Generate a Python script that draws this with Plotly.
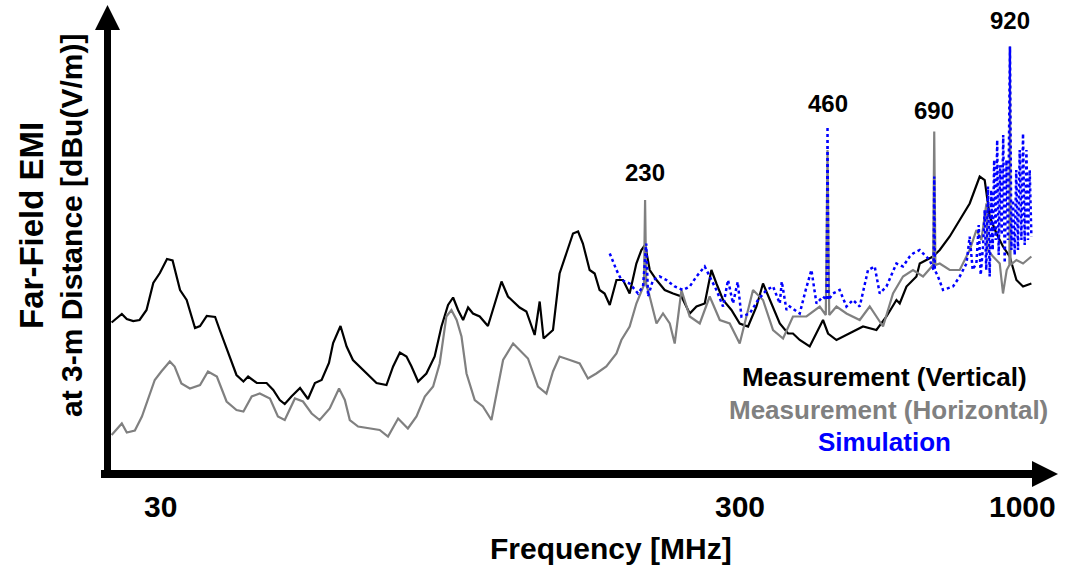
import numpy as np
import plotly.graph_objects as go

# ---------------- data (frequency in MHz, level in dBuV/m) ----------------
vert_freq = [30.3, 31.5, 32.1, 32.9, 33.7, 34.6, 35.5, 36.4, 37.4, 38.2,
             39.3, 40.3, 41.6, 42.4, 43.5, 44.9, 45.7, 47.2, 48.7, 50.0,
             50.9, 52.6, 54.6, 56.0, 57.4, 58.5, 60.0, 62.0, 63.9, 65.6,
             67.3, 69.2, 70.3, 72.3, 74.0, 75.8, 77.8, 80.3, 82.9, 86.1,
             88.3, 90.6, 92.9, 94.7, 97.1, 100.2, 103.4, 106.1, 108.8, 110.9,
             113.0, 115.2, 117.4, 119.6, 122.7, 126.6, 129.1, 133.3, 136.6, 139.3,
             142.8, 146.5, 151.2, 154.1, 156.4, 162.1, 166.2, 170.5, 174.9, 178.3,
             181.6, 186.3, 189.9, 193.5, 197.2, 201.1, 206.3, 211.5, 216.9, 222.5,
             226.8, 230.0, 234.1, 240.2, 247.8, 255.8, 264.1, 272.5, 279.6, 288.5,
             295.9, 301.6, 309.3, 319.3, 329.5, 340.1, 351.2, 360.0, 369.3, 383.7,
             395.9, 403.4, 413.9, 429.9, 452.2, 460.9, 475.9, 500.5, 526.4, 553.9,
             575.5, 597.7, 605.2, 620.9, 628.6, 644.9, 653.0, 686.7, 704.5, 731.8,
             760.1, 789.5, 820.1, 835.8, 851.8, 873.9, 896.0, 919.1, 942.9, 966.8,
             998.0]
vert_db = [29.5, 31.2, 30.2, 29.8, 30.0, 32.0, 37.4, 39.4, 42.2, 41.9,
           36.0, 34.0, 28.4, 28.8, 30.8, 30.6, 28.0, 23.4, 19.0, 17.7,
           18.7, 17.4, 17.4, 16.0, 14.0, 13.2, 14.7, 16.4, 14.2, 17.4,
           18.0, 21.4, 25.4, 28.8, 24.7, 22.0, 20.7, 19.0, 17.4, 17.0,
           20.7, 23.5, 22.7, 20.7, 17.7, 19.3, 22.7, 28.7, 33.0, 34.5,
           32.0, 30.0, 32.5, 31.3, 30.7, 28.8, 32.0, 37.7, 34.7, 33.7,
           32.5, 31.7, 27.0, 33.7, 26.3, 28.0, 39.3, 43.3, 47.3, 47.7,
           45.3, 40.0, 39.3, 36.0, 35.3, 33.0, 38.0, 38.0, 35.3, 41.3,
           44.0, 45.0, 40.0, 38.0, 36.0, 35.3, 34.7, 31.3, 32.7, 33.3,
           40.0, 37.3, 34.0, 32.0, 29.3, 28.7, 32.7, 37.3, 34.0, 29.3,
           27.3, 27.3, 26.0, 24.7, 30.0, 27.3, 26.0, 27.3, 28.7, 28.0,
           30.7, 34.0, 33.3, 36.7, 37.3, 38.7, 41.3, 42.7, 44.0, 46.7,
           50.0, 53.3, 58.7, 58.0, 50.7, 47.3, 44.7, 42.7, 38.0, 36.7,
           37.3]

horiz_freq = [30.3, 31.5, 32.1, 33.1, 34.0, 34.8, 35.7, 36.6, 37.8, 38.5,
              39.5, 40.8, 42.4, 43.7, 45.2, 46.9, 48.7, 50.0, 51.6, 53.2,
              55.3, 57.0, 58.5, 60.8, 62.7, 64.8, 66.8, 69.4, 71.9, 73.5,
              74.9, 77.3, 80.8, 83.9, 86.6, 90.0, 93.4, 96.5, 99.6, 102.8,
              105.4, 108.1, 110.2, 112.4, 114.5, 116.7, 120.4, 124.2, 128.3, 131.6,
              134.1, 139.3, 142.8, 147.4, 153.1, 158.1, 162.1, 166.2, 172.8, 179.4,
              185.1, 191.1, 198.5, 206.3, 210.2, 216.9, 222.5, 226.8, 229.0, 230.0,
              231.0, 232.6, 240.2, 246.2, 252.6, 257.4, 264.1, 272.5, 283.1, 294.0,
              305.5, 317.2, 329.5, 346.6, 360.0, 374.0, 388.5, 403.4, 424.6, 446.6,
              457.0, 460.0, 463.0, 475.9, 494.3, 519.9, 540.0, 568.0, 590.0, 612.8,
              636.5, 661.2, 687.0, 690.0, 693.0, 704.5, 731.8, 760.1, 789.5, 809.9,
              825.4, 841.3, 845.0, 862.6, 884.9, 896.0, 908.7, 918.0, 920.0, 922.0,
              942.9, 966.8, 998.0]
horiz_db = [7.0, 9.3, 7.5, 7.9, 10.7, 14.0, 18.0, 19.7, 21.7, 20.7,
            17.3, 16.3, 17.0, 19.7, 18.7, 13.7, 12.0, 11.7, 14.7, 15.3,
            14.3, 10.7, 10.0, 14.3, 13.7, 11.3, 10.0, 12.3, 16.3, 14.0,
            10.0, 8.7, 8.3, 8.0, 6.7, 10.3, 8.3, 10.7, 14.7, 16.7,
            21.3, 30.7, 32.0, 30.0, 26.7, 19.3, 14.0, 12.7, 10.0, 16.7,
            22.0, 25.3, 24.0, 22.3, 16.7, 15.3, 19.7, 22.7, 22.0, 21.3,
            18.3, 19.3, 20.7, 23.3, 26.0, 28.7, 33.3, 36.0, 37.0, 54.0,
            37.0, 36.0, 29.3, 31.3, 29.3, 25.3, 36.0, 30.7, 29.3, 34.7,
            30.0, 29.3, 25.3, 36.0, 34.0, 28.0, 26.3, 30.7, 30.7, 32.7,
            31.0, 64.0, 31.0, 32.7, 31.3, 30.0, 32.7, 28.7, 35.3, 38.7,
            40.0, 38.7, 41.0, 67.7, 41.0, 41.3, 40.0, 40.0, 44.0, 48.0,
            46.0, 53.3, 44.0, 42.7, 41.3, 35.3, 40.0, 41.0, 84.7, 41.0,
            42.0, 41.3, 42.7]

sim_freq = [201.1, 206.3, 210.2, 216.9, 223.9, 228.2, 231.0, 232.6, 237.0, 243.1,
            249.4, 257.4, 265.7, 272.5, 279.6, 288.5, 294.0, 301.6, 309.3, 315.2,
            321.2, 327.0, 331.7, 342.3, 353.2, 364.8, 374.0, 383.7, 386.6, 393.6,
            398.4, 413.9, 423.4, 432.7, 441.1, 452.2, 458.5, 460.0, 461.5, 469.7,
            481.8, 494.3, 506.8, 519.9, 536.5, 550.3, 560.9, 575.5, 597.7, 612.8,
            628.6, 636.5, 653.0, 678.2, 688.5, 690.0, 691.5, 699.9, 713.4, 741.0,
            760.1, 779.8, 789.5, 798.5, 809.9, 817.0, 823.2, 830.5, 835.8, 840.7,
            846.3, 851.8, 856.7, 861.6, 866.4, 871.5, 876.4, 881.5, 886.5, 891.6,
            896.7, 901.8, 907.8, 913.1, 920.0, 925.0, 930.7, 936.7, 942.2, 948.5,
            954.7, 960.9, 966.8, 973.0, 979.4, 985.2, 991.7, 998.0]
sim_db = [43.3, 40.0, 38.0, 37.3, 35.3, 36.7, 45.3, 34.7, 38.0, 38.7,
          38.0, 36.7, 36.0, 36.7, 38.7, 40.7, 38.7, 36.0, 32.7, 38.0,
          33.3, 37.6, 30.7, 31.3, 34.0, 36.0, 36.7, 33.3, 37.7, 32.0,
          32.7, 31.3, 36.0, 40.0, 33.3, 34.7, 34.0, 68.7, 34.0, 35.3,
          36.0, 32.7, 34.0, 32.7, 40.0, 40.7, 35.3, 36.7, 41.3, 40.7,
          42.7, 43.3, 44.0, 42.0, 40.0, 58.7, 40.0, 38.7, 36.0, 36.7,
          38.7, 41.3, 46.7, 40.0, 41.4, 49.0, 39.0, 44.7, 52.0, 40.0,
          56.7, 38.7, 56.0, 44.0, 62.0, 46.0, 66.0, 43.0, 61.0, 47.0,
          67.0, 41.4, 62.0, 46.0, 84.7, 44.0, 54.0, 43.0, 60.0, 44.0,
          64.0, 46.0, 67.3, 45.0, 64.0, 46.0, 60.0, 46.7]

peak_freqs = [230, 460, 690, 920]
peak_labels = ["230", "460", "690", "920"]
peak_label_db = [59.6, 73.4, 72.0, 90.0]

tick_labels = ["30", "300", "1000"]
series_names = ["Measurement (Vertical)", "Measurement (Horizontal)", "Simulation"]

# ---------------- layout helpers ----------------
W, H = 1066, 566
L, R, T, B = 105, 21, 15, 96
PW, PH = W - L - R, H - T - B
FONT = "Liberation Sans, Arial, Helvetica, sans-serif"


def pxx(x):
    return (x - L) / PW


def pxy(y):
    return (H - B - y) / PH


fig = go.Figure()
fig.add_trace(go.Scatter(x=vert_freq, y=vert_db, mode="lines", name=series_names[0],
                         line=dict(color="#000000", width=2.2)))
fig.add_trace(go.Scatter(x=horiz_freq, y=horiz_db, mode="lines", name=series_names[1],
                         line=dict(color="#808080", width=2.2)))
fig.add_trace(go.Scatter(x=sim_freq, y=sim_db, mode="lines", name=series_names[2],
                         line=dict(color="#0000FF", width=2.5, dash="dot")))

shapes = [
    dict(type="line", xref="paper", yref="paper", x0=pxx(107.5), x1=pxx(107.5),
         y0=pxy(478), y1=pxy(26), line=dict(color="black", width=7)),
    dict(type="path", xref="paper", yref="paper",
         path=f"M {pxx(107.5)},{pxy(5)} L {pxx(95)},{pxy(30)} L {pxx(120)},{pxy(30)} Z",
         fillcolor="black", line=dict(color="black", width=0)),
    dict(type="line", xref="paper", yref="paper", x0=pxx(101), x1=pxx(1036),
         y0=pxy(474), y1=pxy(474), line=dict(color="black", width=8)),
    dict(type="path", xref="paper", yref="paper",
         path=f"M {pxx(1058)},{pxy(474)} L {pxx(1032)},{pxy(461)} L {pxx(1032)},{pxy(487)} Z",
         fillcolor="black", line=dict(color="black", width=0)),
]

annotations = []
tick_pos = [160, 740, 1022]
for lab, xp in zip(tick_labels, tick_pos):
    annotations.append(dict(text=lab, xref="paper", yref="paper", x=pxx(xp), y=pxy(507),
                            xanchor="center", yanchor="middle", showarrow=False,
                            font=dict(family=FONT, size=30, color="black", weight="bold")))
annotations.append(dict(text="Frequency [MHz]", xref="paper", yref="paper",
                        x=pxx(611), y=pxy(548), xanchor="center", yanchor="middle",
                        showarrow=False,
                        font=dict(family=FONT, size=30, color="black", weight="bold")))
annotations.append(dict(text="<span style='font-size:33px'>Far-Field EMI</span><br>at 3-m Distance [dBu(V/m)]",
                        xref="paper", yref="paper", x=pxx(50), y=pxy(226), xanchor="center",
                        yanchor="middle", textangle=-90, showarrow=False, align="center",
                        font=dict(family=FONT, size=30, color="black", weight="bold")))
legend_colors = ["#000000", "#808080", "#0000FF"]
legend_pos = [(884, 377), (888, 410), (884, 442)]
for name, col, (xp, yp) in zip(series_names, legend_colors, legend_pos):
    annotations.append(dict(text=name, xref="paper", yref="paper", x=pxx(xp), y=pxy(yp),
                            xanchor="center", yanchor="middle", showarrow=False,
                            font=dict(family=FONT, size=26, color=col, weight="bold")))
for f, lab, db in zip(peak_freqs, peak_labels, peak_label_db):
    annotations.append(dict(text=lab, x=np.log10(f), y=db, xref="x", yref="y",
                            xanchor="center", yanchor="middle", showarrow=False,
                            font=dict(family=FONT, size=24, color="black", weight="bold")))

fig.update_layout(
    width=W, height=H,
    margin=dict(l=L, r=R, t=T, b=B, pad=0),
    paper_bgcolor="white", plot_bgcolor="white",
    showlegend=False,
    xaxis=dict(type="log", range=[np.log10(29.55), np.log10(1051)],
               showgrid=False, zeroline=False, showline=False,
               showticklabels=False, ticks=""),
    yaxis=dict(range=[0, 91], showgrid=False, zeroline=False, showline=False,
               showticklabels=False, ticks=""),
    shapes=shapes,
    annotations=annotations,
)

fig.write_html("out.html", config={"displayModeBar": False},
               post_script="document.body.style.margin='0px';document.body.style.padding='0px';")
